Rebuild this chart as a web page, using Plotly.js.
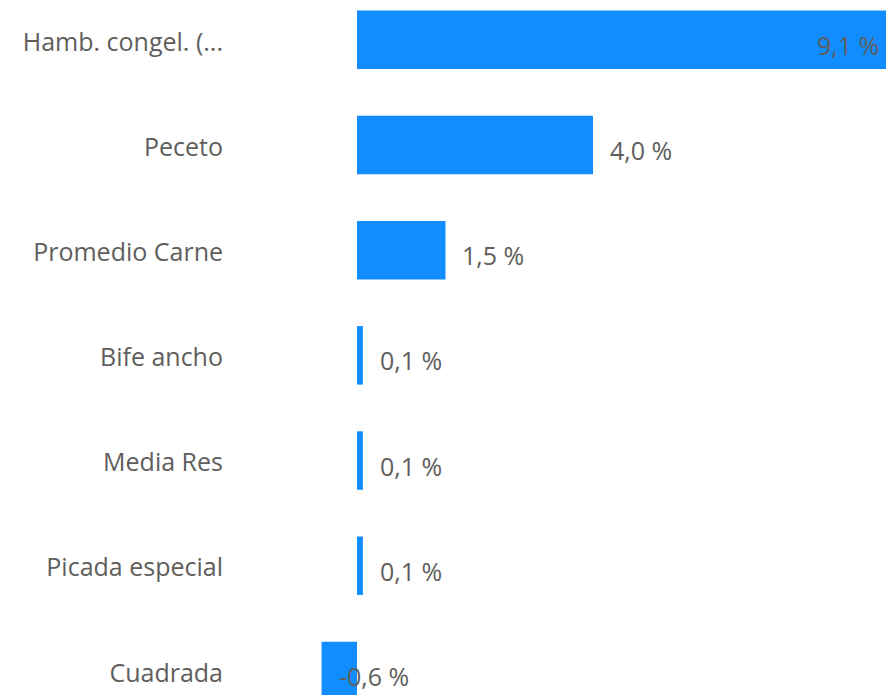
<!DOCTYPE html>
<html>
<head>
<meta charset="utf-8">
<script src="https://cdn.plot.ly/plotly-3.0.1.min.js"></script>
<style>html,body{margin:0;padding:0;background:#fff;}#chart{width:886px;height:695px;}</style>
</head>
<body>
<div id="chart"></div>
<script>
const categories = ["Hamb. congel. (...", "Peceto", "Promedio Carne", "Bife ancho", "Media Res", "Picada especial", "Cuadrada"];
const values = [9.1, 4.0, 1.5, 0.1, 0.1, 0.1, -0.6];
const labelInside = [true, false, false, false, false, false, false];

const fmt = v => v.toFixed(1).replace('.', ',') + ' %';
const textColor = '#605E5C';
const fontFam = '"Open Sans", "Noto Sans", sans-serif';
const xRange = [-2.22, 8.966];

const trace = {
  type: 'bar',
  orientation: 'h',
  x: values,
  y: categories,
  marker: {color: '#118DFF'},
  hoverinfo: 'none'
};

const annotations = values.map((v, i) => {
  const inside = labelInside[i];
  return {
    x: Math.min(v, xRange[1]),
    y: categories[i],
    xref: 'x', yref: 'y',
    text: fmt(v),
    showarrow: false,
    xanchor: inside ? 'right' : 'left',
    xshift: inside ? -5 : 15,
    yshift: -5,
    font: {family: fontFam, size: 25, color: textColor}
  };
});

const layout = {
  width: 886, height: 695,
  margin: {l: 226, r: 0, t: 0, b: 0, pad: 0},
  paper_bgcolor: '#fff', plot_bgcolor: '#fff',
  showlegend: false,
  bargap: 0.444,
  xaxis: {
    range: xRange,
    showgrid: false, zeroline: false, showticklabels: false, showline: false, fixedrange: true
  },
  yaxis: {
    type: 'category',
    categoryorder: 'array',
    categoryarray: categories,
    range: [6.229, -0.378],
    showgrid: false, zeroline: false, showline: false,
    ticks: '',
    ticklabelstandoff: 2,
    ticklabelshift: -2,
    tickfont: {family: fontFam, size: 25, color: textColor}
  },
  annotations: annotations
};

Plotly.newPlot('chart', [trace], layout, {displayModeBar: false, staticPlot: true});
</script>
</body>
</html>
